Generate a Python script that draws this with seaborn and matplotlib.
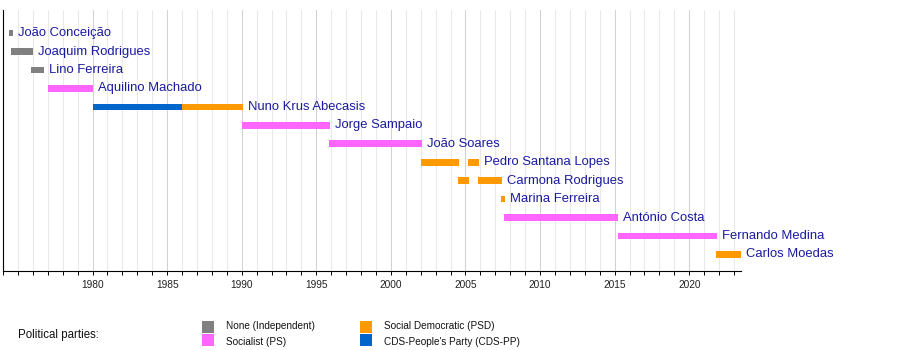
import matplotlib
matplotlib.use("Agg")
import matplotlib.pyplot as plt
from matplotlib.patches import Rectangle
from matplotlib.ticker import MultipleLocator, FixedLocator
import pandas as pd
import seaborn as sns

# Mayors of Lisbon since 1974, one row each, top to bottom
mayors = [
    "João Conceição", "Joaquim Rodrigues", "Lino Ferreira", "Aquilino Machado",
    "Nuno Krus Abecasis", "Jorge Sampaio", "João Soares", "Pedro Santana Lopes",
    "Carmona Rodrigues", "Marina Ferreira", "António Costa", "Fernando Medina",
    "Carlos Moedas",
]

# Terms in office (decimal years) and the party held during each term
term_mayor = [
    "João Conceição", "Joaquim Rodrigues", "Lino Ferreira", "Aquilino Machado",
    "Nuno Krus Abecasis", "Nuno Krus Abecasis", "Jorge Sampaio", "João Soares",
    "Pedro Santana Lopes", "Pedro Santana Lopes", "Carmona Rodrigues",
    "Carmona Rodrigues", "Marina Ferreira", "António Costa", "Fernando Medina",
    "Carlos Moedas",
]
term_start = [1974.37, 1974.55, 1975.89, 1977.01, 1980.0, 1986.03, 1990.01, 1995.86,
              2002.03, 2005.2, 2004.49, 2005.85, 2007.39, 2007.61, 2015.23, 2021.8]
term_end = [1974.64, 1975.98, 1976.78, 1980.0, 1986.03, 1990.08, 1995.93, 2002.08,
            2004.58, 2005.92, 2005.27, 2007.44, 2007.66, 2015.25, 2021.85, 2023.45]
term_party = ["None", "None", "None", "PS", "CDS", "PSD", "PS", "PS",
              "PSD", "PSD", "PSD", "PSD", "PSD", "PS", "PS", "PSD"]

parties = ["None", "PS", "PSD", "CDS"]
party_names = ["None (Independent)", "Socialist (PS)",
               "Social Democratic (PSD)", "CDS-People's Party (CDS-PP)"]
party_colors = ["#808080", "#ff66ff", "#ff9900", "#0066cc"]

x_min, x_max = 1974, 2023.45
year_labels = list(range(1980, 2021, 5))

sns.set_theme(style="white")
plt.rcParams["font.family"] = ["Liberation Sans", "DejaVu Sans"]

palette = dict(zip(parties, sns.color_palette(party_colors)))
df = pd.DataFrame({"mayor": term_mayor, "start": term_start,
                   "end": term_end, "party": term_party})
df["row"] = df["mayor"].map({m: i for i, m in enumerate(mayors)})

W, H = 900, 350
fig = plt.figure(figsize=(W / 100, H / 100), dpi=100)
ax = fig.add_axes([3 / W, 79.5 / H, 737.7 / W, 260.5 / H])

# year grid: light line every year, slightly darker every five years
ax.xaxis.set_minor_locator(MultipleLocator(1))
ax.xaxis.set_major_locator(FixedLocator(year_labels))
ax.grid(which="minor", axis="x", color="#e8e8e8", linewidth=0.75, zorder=0)
ax.grid(which="major", axis="x", color="#d2d2d2", linewidth=0.75, zorder=0)
ax.grid(axis="y", visible=False)
ax.set_axisbelow(True)

for _, t in df.iterrows():
    ax.barh(t["row"], t["end"] - t["start"], left=t["start"], height=0.36,
            color=palette[t["party"]], linewidth=0, zorder=2)

# name label right after the end of each mayor's last term
last_end = df.groupby("row")["end"].max()
for row, end in last_end.items():
    ax.annotate(mayors[row], xy=(end, row), xytext=(3.6, 0),
                textcoords="offset points", va="center", ha="left",
                fontsize=9.4, color="#1a1aa0", annotation_clip=False)

ax.set_xlim(x_min, x_max)
ax.set_ylim(len(mayors) - 0.13, -1.25)
ax.set_yticks([])
ax.set_xlabel("")
ax.set_ylabel("")
for side in ("top", "right"):
    ax.spines[side].set_visible(False)
for side in ("left", "bottom"):
    ax.spines[side].set_color("black")
    ax.spines[side].set_linewidth(0.8)
ax.tick_params(axis="x", which="both", direction="out", length=3, width=0.7,
               color="black", bottom=True, pad=4, labelsize=7.3, labelcolor="#222222")
ax.set_xticklabels([str(y) for y in year_labels])

# party legend below the axis
def fx(px):
    return px / W

def fy(py):
    return 1 - py / H

fig.text(fx(18), fy(335), "Political parties:", fontsize=8.3,
         va="center", ha="left", color="#111111")
for i, (p, name) in enumerate(zip(parties, party_names)):
    col, r = divmod(i, 2)
    x0 = 202 + col * 158
    y_top = 321 + r * 13.3
    fig.add_artist(Rectangle((fx(x0), fy(y_top + 12)), 12 / W, 12 / H,
                             transform=fig.transFigure, facecolor=palette[p],
                             edgecolor="none"))
    fig.text(fx(x0 + 24), fy(326 + r * 16), name, fontsize=7.2,
             va="center", ha="left", color="#111111")

fig.savefig("out.png", dpi=100)
